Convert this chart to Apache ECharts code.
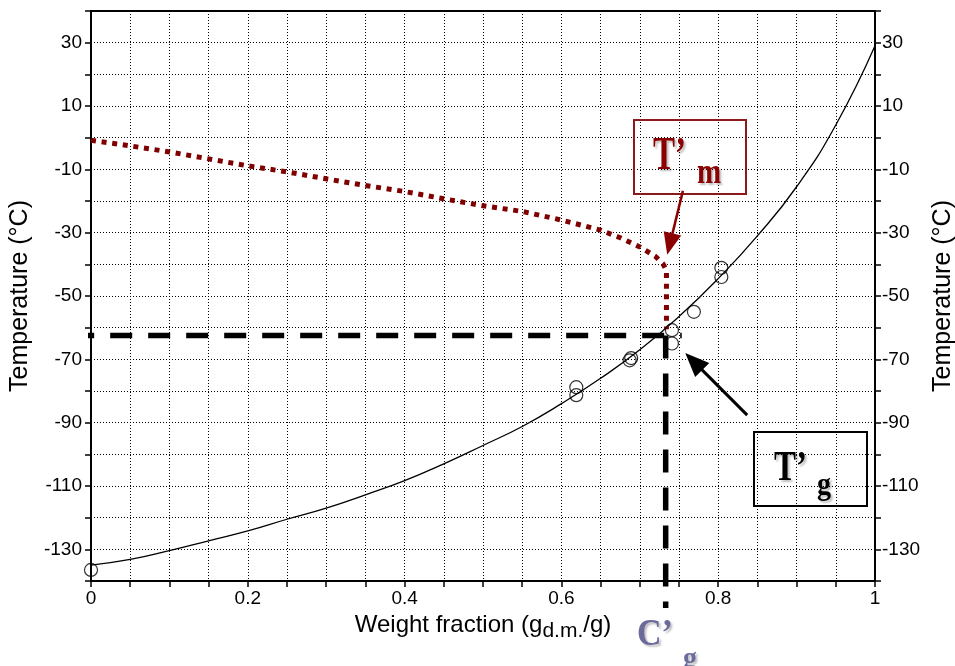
<!DOCTYPE html>
<html>
<head>
<meta charset="utf-8">
<script src="https://cdn.jsdelivr.net/npm/echarts@6/dist/echarts.min.js"></script>
<style>
  html, body { margin: 0; padding: 0; background: #fff; }
  #chart { width: 955px; height: 666px; }
</style>
</head>
<body>
<div id="chart"></div>
<script>
// Glass transition (Gordon-Taylor fit) versus dry-matter weight fraction
const tgCurveX = [0, 0.05, 0.1, 0.15, 0.2, 0.25, 0.3, 0.35, 0.4, 0.45, 0.5, 0.55, 0.6, 0.65, 0.7, 0.75, 0.8, 0.85, 0.9, 0.95, 1.0];
const tgCurveY = [-135, -133.2, -130.4, -127.3, -124.2, -120.5, -117.0, -112.8, -108.3, -103.0, -97.2, -91.2, -84.0, -76.0, -67.0, -56.5, -44.5, -31.0, -15.5, 4.0, 29.0];

// Measured glass transition temperatures
const measuredX = [0, 0.619, 0.619, 0.689, 0.687, 0.741, 0.741, 0.769, 0.804, 0.804];
const measuredY = [-136.5, -78.8, -81.3, -69.6, -70.3, -60.8, -65.0, -55.0, -41.1, -44.0];

// Freezing (melting) curve, ending at the maximal freeze concentration
const meltX = [0, 0.05, 0.1, 0.15, 0.2, 0.25, 0.3, 0.35, 0.4, 0.45, 0.5, 0.55, 0.6, 0.65, 0.675, 0.7, 0.72, 0.73, 0.734, 0.734];
const meltY = [-0.8, -2.6, -4.5, -6.7, -8.9, -10.8, -13.0, -15.1, -17.0, -19.3, -21.5, -23.3, -26.0, -29.2, -31.6, -34.5, -37.5, -40.0, -42.0, -60.5];

// Characteristic point of the maximally freeze-concentrated phase
const cgPrime = 0.733;
const tgPrime = -62.5;
const guideXStart = -0.024;
const guideXEnd = 0.7535;
const guideYEnd = -148.5;

// Axis ranges and label steps
const xRange = [0, 1];
const yRange = [-140, 40];
const xTickStep = 0.05;
const yTickStep = 10;

// Arrow anchors, in data units
const tmArrow = { from: [0.755, -16.8], to: [0.735, -37] };
const tgArrow = { from: [0.837, -87.6], to: [0.758, -68] };

const pairs = (xs, ys) => xs.map((x, i) => [x, ys[i]]);

const SANS = '"Liberation Sans", Arial, sans-serif';
const SERIF = '"Liberation Serif", "Times New Roman", serif';

const xLabel = v => {
  const k = v / 0.2;
  return Math.abs(k - Math.round(k)) < 1e-6 ? String(Math.round(k) * 2 / 10) : '';
};
const yLabel = v => (Math.round(v) % 20 !== 0 ? String(Math.round(v)) : '');

const gridDots = { show: true, lineStyle: { color: '#000', width: 1, type: [1, 2] } };

const yAxisBase = {
  type: 'value',
  min: yRange[0],
  max: yRange[1],
  interval: yTickStep,
  axisLine: { show: true, onZero: false, lineStyle: { color: '#000', width: 2 } },
  axisTick: { show: true, inside: false, length: 6, lineStyle: { color: '#000', width: 1.5 } },
  axisLabel: { formatter: yLabel, color: '#000', fontSize: 19, fontFamily: SANS },
  name: 'Temperature (°C)',
  nameLocation: 'middle',
  nameTextStyle: { fontSize: 25, fontFamily: SANS, color: '#000' }
};

const chart = echarts.init(document.getElementById('chart'), null, { renderer: 'canvas' });

chart.setOption({
  animation: false,
  backgroundColor: '#fff',
  grid: {
    left: 91, right: 80, top: 11, bottom: 85,
    containLabel: false, outerBoundsMode: 'none',
    show: true, borderColor: '#000', borderWidth: 2, backgroundColor: 'transparent'
  },
  xAxis: {
    type: 'value',
    min: xRange[0],
    max: xRange[1],
    interval: xTickStep,
    axisLine: { show: true, onZero: false, lineStyle: { color: '#000', width: 2 } },
    axisTick: { show: true, inside: false, length: 6, lineStyle: { color: '#000', width: 1.5 } },
    axisLabel: { formatter: xLabel, color: '#000', fontSize: 19, fontFamily: SANS, margin: 8 },
    splitLine: gridDots,
    name: '{a|Weight fraction (g}{b|d.m.}{a|/g)}',
    nameLocation: 'middle',
    nameGap: 26,
    nameTextStyle: {
      rich: {
        a: { fontSize: 24, fontFamily: SANS, color: '#000' },
        b: { fontSize: 21, fontFamily: SANS, color: '#000', verticalAlign: 'bottom', padding: [12, 0, 0, 0] }
      }
    }
  },
  yAxis: [
    Object.assign({}, yAxisBase, {
      position: 'left',
      splitLine: gridDots,
      nameGap: 45,
      axisLabel: Object.assign({}, yAxisBase.axisLabel, { margin: 9 })
    }),
    Object.assign({}, yAxisBase, {
      position: 'right',
      splitLine: { show: false },
      nameGap: 52,
      axisLabel: Object.assign({}, yAxisBase.axisLabel, { margin: 7 })
    })
  ],
  series: [
    {
      name: 'Tg curve',
      type: 'line',
      data: pairs(tgCurveX, tgCurveY),
      smooth: true,
      showSymbol: false,
      symbol: 'none',
      lineStyle: { color: '#000', width: 1.3 },
      z: 2,
      silent: true
    },
    {
      name: 'Tm curve',
      type: 'line',
      data: pairs(meltX, meltY),
      showSymbol: false,
      symbol: 'none',
      lineStyle: { color: '#800000', width: 5, type: [5, 5.7], cap: 'butt' },
      z: 3,
      silent: true
    },
    {
      name: 'Measured Tg',
      type: 'scatter',
      data: pairs(measuredX, measuredY),
      symbol: 'circle',
      symbolSize: 13,
      itemStyle: { color: 'rgba(0,0,0,0)', borderColor: '#000', borderWidth: 1.2 },
      z: 4,
      clip: false,
      silent: true
    },
    {
      name: "T'g guide",
      type: 'line',
      data: [[guideXStart, tgPrime], [guideXEnd, tgPrime]],
      showSymbol: false,
      symbol: 'none',
      clip: false,
      lineStyle: { color: '#000', width: 5.5, type: [22, 16], cap: 'butt' },
      z: 5,
      silent: true
    },
    {
      name: "C'g guide",
      type: 'line',
      data: [[cgPrime, tgPrime], [cgPrime, guideYEnd]],
      showSymbol: false,
      symbol: 'none',
      clip: false,
      lineStyle: { color: '#000', width: 5.5, type: [23, 15], cap: 'butt' },
      z: 5,
      silent: true
    }
  ]
});

// Arrow built from a shaft and a triangular head
function arrow(from, to, color, width, headLen, headWidth) {
  const p1 = chart.convertToPixel({ gridIndex: 0 }, from);
  const p2 = chart.convertToPixel({ gridIndex: 0 }, to);
  const dx = p2[0] - p1[0], dy = p2[1] - p1[1];
  const len = Math.sqrt(dx * dx + dy * dy);
  const ux = dx / len, uy = dy / len;
  const bx = p2[0] - ux * headLen, by = p2[1] - uy * headLen;
  const px = -uy * headWidth / 2, py = ux * headWidth / 2;
  return [
    { type: 'line', shape: { x1: p1[0], y1: p1[1], x2: bx + ux * 2, y2: by + uy * 2 },
      style: { stroke: color, lineWidth: width }, z: 100 },
    { type: 'polygon', shape: { points: [[p2[0], p2[1]], [bx + px, by + py], [bx - px, by - py]] },
      style: { fill: color }, z: 100 }
  ];
}

function label(text, x, y, fontSize, scaleY, color) {
  return {
    type: 'text', x: x, y: y, scaleY: scaleY, z: 101,
    style: {
      text: text, x: 0, y: 0,
      font: 'bold ' + fontSize + 'px ' + SERIF,
      fill: color,
      textAlign: 'left', align: 'left',
      textVerticalAlign: 'middle', verticalAlign: 'middle',
      textShadowColor: 'rgba(0,0,0,0.25)', textShadowBlur: 2,
      textShadowOffsetX: 2, textShadowOffsetY: 2
    }
  };
}

const tmColor = '#8b0000';
const cgColor = '#6b6b9b';

chart.setOption({
  graphic: [
    { type: 'rect', shape: { x: 634, y: 120, width: 112, height: 74 },
      style: { fill: 'none', stroke: '#8b1a1a', lineWidth: 2 }, z: 99 },
    label('T\u2019', 653, 157.5, 33, 1.4, tmColor),
    label('m', 697, 174, 29, 1.2, tmColor),
    { type: 'rect', shape: { x: 754, y: 432, width: 113, height: 74 },
      style: { fill: 'none', stroke: '#000', lineWidth: 2 }, z: 99 },
    label('T\u2019', 774, 469, 33, 1.3, '#000'),
    label('g', 817, 486, 28, 1.15, '#000'),
    label('C\u2019', 637, 635, 34, 1.1, cgColor),
    label('g', 683, 660, 28, 1.1, cgColor)
  ].concat(
    arrow(tmArrow.from, tmArrow.to, tmColor, 2.5, 22, 18),
    arrow(tgArrow.from, tgArrow.to, '#000', 3, 24, 20)
  )
});
</script>
</body>
</html>
